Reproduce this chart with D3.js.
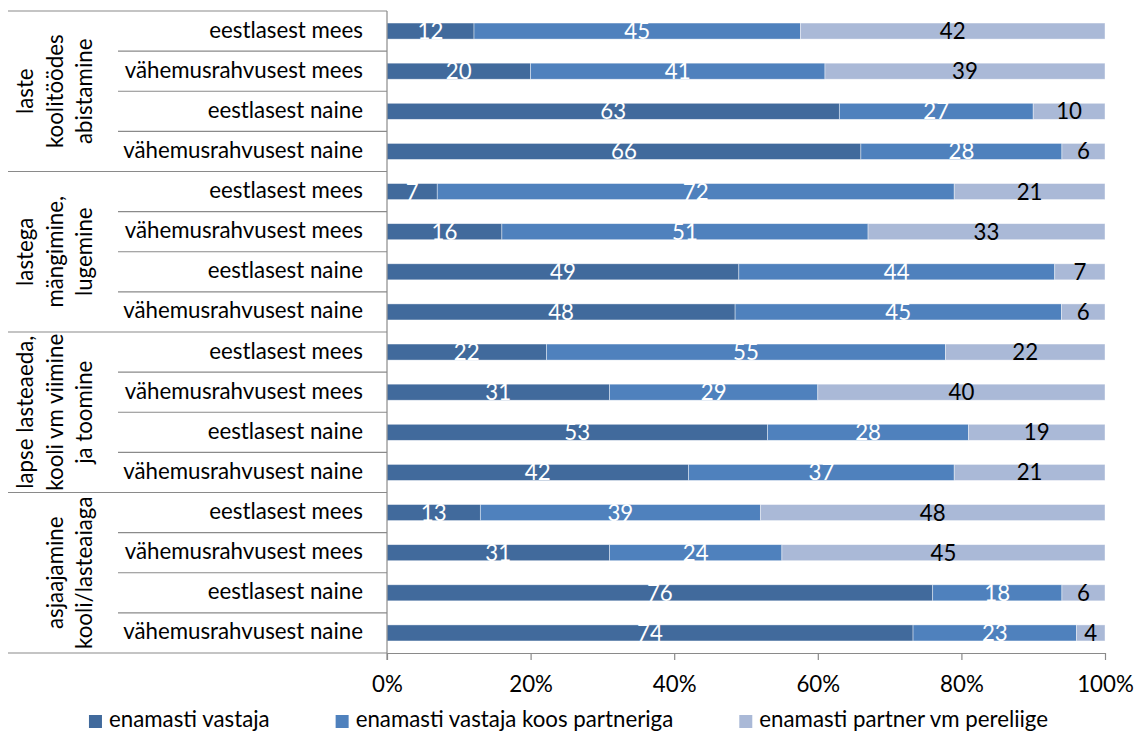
<!DOCTYPE html>
<html>
<head>
<meta charset="utf-8">
<script src="https://cdn.jsdelivr.net/npm/d3@7"></script>
<style>
  html, body { margin: 0; padding: 0; background: #fff; }
  svg text { font-family: Lato, "Open Sans", "Liberation Sans", sans-serif; }
</style>
</head>
<body>
<svg id="chart" width="1137" height="733"></svg>
<script>
// ---- data ----
const groups = [
  ["laste", "koolitöödes", "abistamine"],
  ["lastega", "mängimine,", "lugemine"],
  ["lapse lasteaeda,", "kooli vm viimine", "ja toomine"],
  ["asjaajamine", "kooli/lasteaiaga"]
];
const subCategories = ["eestlasest mees", "vähemusrahvusest mees", "eestlasest naine", "vähemusrahvusest naine"];
const seriesNames = ["enamasti vastaja", "enamasti vastaja koos partneriga", "enamasti partner vm pereliige"];
const seriesColors = ["#416A9C", "#4F81BD", "#AAB9D7"];
const labelColors = ["#ffffff", "#ffffff", "#000000"];
const vastaja = [12, 20, 63, 66, 7, 16, 49, 48, 22, 31, 53, 42, 13, 31, 76, 74];
const koosPartneriga = [45, 41, 27, 28, 72, 51, 44, 45, 55, 29, 28, 37, 39, 24, 18, 23];
const partner = [42, 39, 10, 6, 21, 33, 7, 6, 22, 40, 19, 21, 48, 45, 6, 4];
const tickValues = [0, 0.2, 0.4, 0.6, 0.8, 1.0];

(function () {
// ---- build rows ----
const rows = [];
groups.forEach((g, gi) => {
  subCategories.forEach((s, si) => {
    const i = gi * subCategories.length + si;
    rows.push({ id: i, group: gi, sub: s, vals: [vastaja[i], koosPartneriga[i], partner[i]] });
  });
});

const svg = d3.select("#chart");
const pLeft = 387, pRight = 1105, pTop = 11, pBottom = 653;
const lineColor = "#8a8a8a";

// font fitting: pick size so the longest sub label is ~240px wide like the reference
const probe = svg.append("text").attr("font-size", 100).text("vähemusrahvusest naine");
const w100 = probe.node().getComputedTextLength();
probe.remove();
const fs = Math.min(23.5, 100 * 240 / w100);

const x = d3.scaleLinear().domain([0, 1]).range([pLeft, pRight]);
const y = d3.scaleBand().domain(rows.map(d => d.id)).range([pTop, pBottom]).paddingInner(0.6).paddingOuter(0.3);
const step = y.step();

// stacked (100%) data
const stackData = rows.map(r => {
  const total = d3.sum(r.vals);
  const o = { id: r.id };
  r.vals.forEach((v, k) => o["s" + k] = v / total);
  return o;
});
const stack = d3.stack().keys(["s0", "s1", "s2"]);
const layers = stack(stackData);

// bars
const gBars = svg.append("g");
layers.forEach((layer, k) => {
  gBars.selectAll(null).data(layer).enter().append("rect")
    .attr("x", d => x(d[0]))
    .attr("y", d => y(d.data.id))
    .attr("width", d => x(d[1]) - x(d[0]))
    .attr("height", y.bandwidth())
    .attr("fill", seriesColors[k])
    .attr("stroke", "#ffffff")
    .attr("stroke-opacity", 0.55)
    .attr("stroke-width", 0.75);
});
// data labels
layers.forEach((layer, k) => {
  gBars.selectAll(null).data(layer).enter().append("text")
    .attr("x", d => x((d[0] + d[1]) / 2))
    .attr("y", d => y(d.data.id) + y.bandwidth() / 2 + 8)
    .attr("text-anchor", "middle")
    .attr("font-size", fs)
    .attr("fill", labelColors[k])
    .text(d => rows[d.data.id].vals[k]);
});

// x axis
const xAxis = d3.axisBottom(x).tickValues(tickValues).tickFormat(d3.format(".0%")).tickSize(7).tickSizeOuter(0).tickPadding(9);
const gx = svg.append("g").attr("transform", `translate(0,${pBottom})`).call(xAxis);
gx.select(".domain").attr("stroke", lineColor).attr("stroke-width", 1.2);
gx.selectAll(".tick line").attr("stroke", lineColor).attr("stroke-width", 1.2);
gx.selectAll(".tick text").attr("font-size", fs).attr("fill", "#000")
  .attr("font-family", 'Lato, "Open Sans", sans-serif')
  .attr("dy", null).attr("y", 692 - pBottom);

// vertical axis line
svg.append("line").attr("x1", pLeft).attr("x2", pLeft).attr("y1", pTop).attr("y2", pBottom + 7)
  .attr("stroke", lineColor).attr("stroke-width", 1.2);

// category separators
const gCat = svg.append("g");
rows.forEach((r, i) => {
  const yy = pTop + i * step;
  const isGroup = i % subCategories.length === 0;
  gCat.append("line").attr("x1", isGroup ? 8 : 118).attr("x2", pLeft).attr("y1", yy).attr("y2", yy)
    .attr("stroke", lineColor).attr("stroke-width", 1.2);
});
gCat.append("line").attr("x1", 8).attr("x2", pLeft).attr("y1", pBottom).attr("y2", pBottom)
  .attr("stroke", lineColor).attr("stroke-width", 1.2);

// sub labels
gCat.selectAll(null).data(rows).enter().append("text")
  .attr("x", 363)
  .attr("y", d => y(d.id) + y.bandwidth() / 2 + 6.5)
  .attr("text-anchor", "end")
  .attr("font-size", fs)
  .attr("fill", "#000")
  .text(d => d.sub);

// group labels (rotated)
groups.forEach((lines, gi) => {
  const cy = pTop + (gi * subCategories.length + subCategories.length / 2) * step;
  const n = lines.length;
  lines.forEach((t, li) => {
    const bx = 92 - (n - 1 - li) * 29.5;
    gCat.append("text")
      .attr("transform", `translate(${bx},${cy}) rotate(-90)`)
      .attr("text-anchor", "middle")
      .attr("font-size", fs)
      .attr("fill", "#000")
      .text(t);
  });
});

// legend
const gLeg = svg.append("g");
const sq = 13, gapSq = 7, gapItem = 66;
const items = seriesNames.map((name, k) => {
  const g = gLeg.append("g");
  g.append("rect").attr("x", 0).attr("y", -sq + 1).attr("width", sq).attr("height", sq).attr("fill", seriesColors[k]);
  const t = g.append("text").attr("x", sq + gapSq).attr("y", 0).attr("font-size", fs).attr("fill", "#000").text(name);
  return { g, w: sq + gapSq + t.node().getComputedTextLength() };
});
const totalW = d3.sum(items, d => d.w) + gapItem * (items.length - 1);
let cx = 1137 / 2 - totalW / 2;
items.forEach(it => {
  it.g.attr("transform", `translate(${cx},727)`);
  cx += it.w + gapItem;
});
})();
</script>
</body>
</html>
